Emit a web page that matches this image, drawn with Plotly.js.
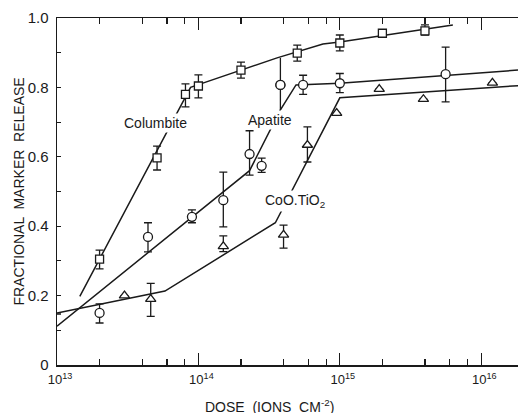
<!DOCTYPE html>
<html>
<head>
<meta charset="utf-8">
<script src="https://cdn.plot.ly/plotly-3.0.1.min.js"></script>
<style>html,body{margin:0;padding:0;background:#fff;}#chart{width:518px;height:413px;}</style>
</head>
<body>
<div id="chart"></div>
<script>
// ---- Columbite (squares) ----
const columbiteX = [2e13, 5.1e13, 8.1e13, 1.0e14, 2e14, 5e14, 1e15, 2e15, 4e15];
const columbiteY = [0.305, 0.597, 0.78, 0.804, 0.85, 0.899, 0.928, 0.956, 0.963];
const columbitePlus = [0.026, 0.034, 0.03, 0.032, 0.023, 0.023, 0.023, null, 0.017];
const columbiteMinus = [0.028, 0.035, 0.036, 0.034, 0.023, 0.023, 0.023, null, 0.012];
const columbiteLineX = [1.45e13, 8.1e13, 8.8e13, 1.0e14, 3.6e14, 7.6e14, 1e15, 6.3e15];
const columbiteLineY = [0.198, 0.775, 0.8, 0.808, 0.885, 0.925, 0.931, 0.98];

// ---- Apatite (circles) ----
const apatiteX = [2e13, 4.4e13, 9e13, 1.5e14, 2.3e14, 2.8e14, 3.8e14, 5.5e14, 1e15, 5.6e15];
const apatiteY = [0.15, 0.369, 0.427, 0.475, 0.608, 0.574, 0.807, 0.807, 0.812, 0.838];
const apatitePlus = [0.026, 0.041, 0.02, 0.081, 0.067, 0.022, 0.078, 0.028, 0.028, 0.078];
const apatiteMinus = [0.029, 0.043, 0.017, 0.077, 0.061, 0.019, 0.072, 0.027, 0.027, 0.08];
const apatiteUncappedIndex = 6;
const apatiteLineX = [1e13, 2.3e14, 3.8e14, 4.9e14, 1e15, 1.82e16];
const apatiteLineY = [0.112, 0.56, 0.735, 0.807, 0.812, 0.85];

// ---- CoO.TiO2 (triangles) ----
const cooX = [1e13, 3.0e13, 4.6e13, 1.5e14, 4e14, 5.9e14, 9.5e14, 1.9e15, 3.9e15, 1.2e16];
const cooY = [0.147, 0.20, 0.19, 0.342, 0.375, 0.634, 0.726, 0.795, 0.766, 0.813];
const cooPlus = [null, null, 0.045, 0.03, 0.028, 0.052, null, null, null, null];
const cooMinus = [null, null, 0.05, 0.015, 0.038, 0.049, null, null, null, null];
const cooLineX = [1e13, 5.8e13, 3.5e14, 1e15, 1.82e16];
const cooLineY = [0.15, 0.213, 0.41, 0.77, 0.805];

// ---- Ticks ----
const xMajorTicks = [1e13, 1e14, 1e15, 1e16];
const xTickText = ['10<sup>13</sup>', '10<sup>14</sup>', '10<sup>15</sup>', '10<sup>16</sup>'];
const xMinorMultipliers = [2, 4, 6, 8];
const yTicks = [0, 0.2, 0.4, 0.6, 0.8, 1.0];
const yTickText = ['0', '0.2', '0.4', '0.6', '0.8', '1.0'];

const xMinorTicks = [];
xMajorTicks.forEach(d => xMinorMultipliers.forEach(m => xMinorTicks.push(d * m)));

const INK = '#1a1a1a';
const FONT = 'Liberation Sans, Arial, sans-serif';

function lineTrace(x, y) {
  return {x: x, y: y, mode: 'lines', type: 'scatter', line: {color: INK, width: 1.5}, hoverinfo: 'skip', showlegend: false};
}
function markerTrace(x, y, plus, minus, symbol, size, skipIdx) {
  const p = plus.map((v, i) => i === skipIdx ? null : v);
  const m = minus.map((v, i) => i === skipIdx ? null : v);
  return {
    x: x, y: y, mode: 'markers', type: 'scatter', cliponaxis: false, showlegend: false,
    marker: {symbol: symbol, size: size, color: '#ffffff', line: {color: INK, width: 1.3}},
    error_y: {type: 'data', symmetric: false, array: p, arrayminus: m, color: INK, thickness: 1.3, width: 4}
  };
}

const uncapped = {
  x: [apatiteX[apatiteUncappedIndex]], y: [apatiteY[apatiteUncappedIndex]],
  mode: 'markers', type: 'scatter', showlegend: false, cliponaxis: false,
  marker: {symbol: 'circle', size: 9, color: '#ffffff', line: {color: INK, width: 1.3}},
  error_y: {type: 'data', symmetric: false, array: [apatitePlus[apatiteUncappedIndex]],
            arrayminus: [apatiteMinus[apatiteUncappedIndex]], color: INK, thickness: 1.3, width: 0}
};

const data = [
  lineTrace(columbiteLineX, columbiteLineY),
  lineTrace(apatiteLineX, apatiteLineY),
  lineTrace(cooLineX, cooLineY),
  markerTrace(columbiteX, columbiteY, columbitePlus, columbiteMinus, 'square', 8, -1),
  markerTrace(apatiteX, apatiteY, apatitePlus, apatiteMinus, 'circle', 9, apatiteUncappedIndex),
  uncapped,
  markerTrace(cooX, cooY, cooPlus, cooMinus, 'triangle-up', 9, -1)
];

const labelFont = {family: FONT, size: 14, color: INK};
const layout = {
  width: 518, height: 413,
  margin: {l: 57, r: 0, t: 18, b: 48},
  paper_bgcolor: '#ffffff', plot_bgcolor: '#ffffff',
  font: {family: FONT, size: 14, color: INK},
  showlegend: false,
  xaxis: {
    type: 'log', range: [13, 16.26],
    tickvals: xMajorTicks, ticktext: xTickText,
    ticks: 'inside', ticklen: 12, tickwidth: 1.3, tickcolor: INK,
    showline: true, linewidth: 1.5, linecolor: INK, mirror: 'ticks',
    showgrid: false, zeroline: false,
    tickfont: {family: FONT, size: 13, color: INK},
    ticklabelshift: 3, ticklabelstandoff: 2,
    minor: {tickvals: xMinorTicks, ticks: 'inside', ticklen: 6, tickwidth: 1.2, tickcolor: INK, showgrid: false}
  },
  yaxis: {
    range: [0, 1.0],
    tickvals: yTicks, ticktext: yTickText,
    ticks: 'inside', ticklen: 4, tickwidth: 1.3, tickcolor: INK,
    showline: true, linewidth: 1.5, linecolor: INK,
    showgrid: false, zeroline: false,
    tickfont: {family: FONT, size: 15, color: INK},
    ticklabelstandoff: 4,
    minor: {dtick: 0.1, ticks: 'inside', ticklen: 4, tickwidth: 1.2, tickcolor: INK, showgrid: false}
  },
  annotations: [
    {text: 'Columbite', x: 13.693, y: 0.697, xref: 'x', yref: 'y', showarrow: false, font: labelFont, bgcolor: '#ffffff', borderpad: 1},
    {text: 'Apatite', x: 14.505, y: 0.706, xref: 'x', yref: 'y', showarrow: false, font: labelFont, bgcolor: '#ffffff', borderpad: 1},
    {text: 'CoO.TiO<sub>2</sub>', x: 14.68, y: 0.473, xref: 'x', yref: 'y', showarrow: false, font: labelFont, bgcolor: '#ffffff', borderpad: 1},
    {text: 'DOSE  (IONS  CM<sup>-2</sup>)', x: 0.46, y: 0, xref: 'paper', yref: 'paper', yanchor: 'top', yshift: -30, showarrow: false, font: {family: FONT, size: 14, color: INK}},
    {text: 'FRACTIONAL  MARKER  RELEASE', x: 0, y: 0.5, xref: 'paper', yref: 'paper', xanchor: 'center', xshift: -39, textangle: -90, showarrow: false, font: {family: FONT, size: 14, color: INK}}
  ]
};

Plotly.newPlot('chart', data, layout, {staticPlot: true, displayModeBar: false});
</script>
</body>
</html>
